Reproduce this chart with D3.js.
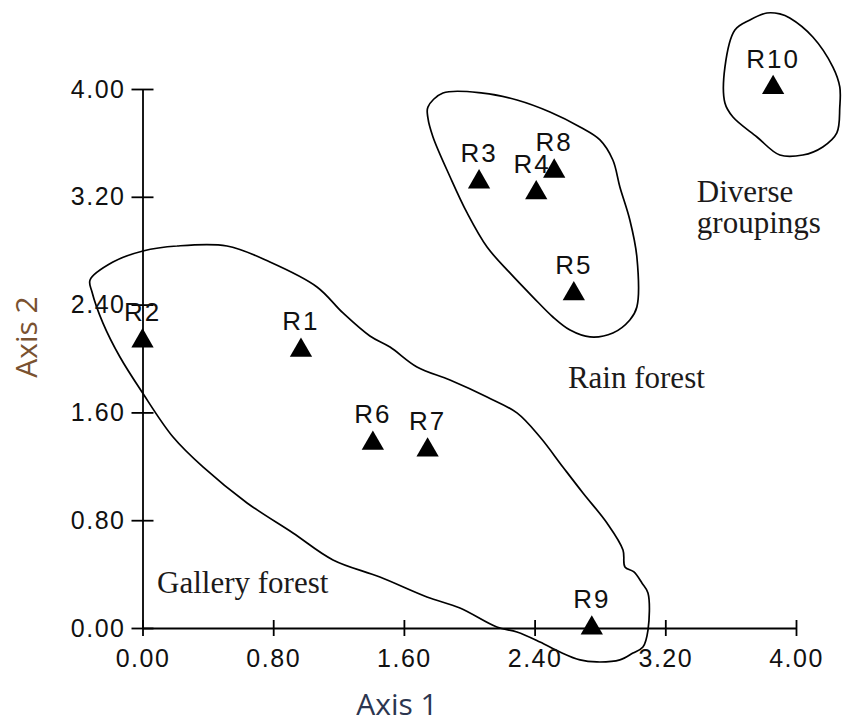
<!DOCTYPE html>
<html>
<head>
<meta charset="utf-8">
<script src="https://cdn.jsdelivr.net/npm/d3@7/dist/d3.min.js"></script>
<style>
  html, body { margin: 0; padding: 0; background: #fff; }
  svg { display: block; }
</style>
</head>
<body>
<svg id="chart" width="842" height="725"></svg>
<script>
// ---- data ----
const siteNames = ["R1","R2","R3","R4","R5","R6","R7","R8","R9","R10"];
const axis1Values = [0.97, 0.00, 2.06, 2.41, 2.64, 1.41, 1.745, 2.52, 2.75, 3.86];
const axis2Values = [2.06, 2.13, 3.31, 3.23, 2.48, 1.37, 1.32, 3.39, 0.00, 4.01];
const tickValues = [0.00, 0.80, 1.60, 2.40, 3.20, 4.00];

// group outlines (axis1, axis2)
const galleryOutline = [
  [0.003,2.798],[0.211,2.835],[0.517,2.835],[0.780,2.716],[1.068,2.531],[1.227,2.338],
  [1.392,2.167],[1.515,2.085],[1.680,1.937],[1.882,1.840],[2.109,1.714],[2.292,1.596],
  [2.433,1.417],[2.573,1.195],[2.696,1.002],[2.843,0.779],[2.941,0.579],[2.953,0.453],
  [3.008,0.416],[3.057,0.334],[3.094,0.260],[3.094,-0.015],[3.063,-0.141],[3.002,-0.186],
  [2.922,-0.237],[2.781,-0.252],[2.678,-0.237],[2.555,-0.178],[2.433,-0.104],[2.292,-0.030],
  [2.169,0.007],[1.943,0.148],[1.741,0.230],[1.453,0.378],[1.166,0.505],[0.921,0.705],
  [0.640,0.928],[0.370,1.195],[0.187,1.417],[-0.003,1.751],[-0.138,2.011],[-0.242,2.263],
  [-0.309,2.494],[-0.321,2.583],[-0.181,2.716]
];
const rainOutline = [
  [1.747,3.866],[1.839,3.970],[2.084,3.970],[2.292,3.918],[2.494,3.829],[2.678,3.718],
  [2.800,3.622],[2.879,3.473],[2.922,3.273],[2.983,3.028],[3.026,2.753],[3.026,2.382],
  [2.983,2.286],[2.879,2.189],[2.739,2.160],[2.617,2.211],[2.512,2.308],[2.390,2.456],
  [2.249,2.635],[2.109,2.827],[1.987,3.080],[1.883,3.347],[1.778,3.644],[1.747,3.785]
];
const diverseOutline = [
  [3.565,4.163],[3.626,4.438],[3.718,4.512],[3.822,4.564],[3.901,4.557],[3.962,4.527],
  [4.103,4.386],[4.226,4.163],[4.268,4.015],[4.268,3.866],[4.250,3.674],[4.164,3.570],
  [4.042,3.510],[3.901,3.510],[3.761,3.644],[3.614,3.792],[3.565,3.896]
];
const groupLabels = ["Gallery forest", "Rain forest", "Diverse|groupings"];
const groupLabelPos = [[0.089, 0.26], [2.604, 1.781], [3.393, 3.16]];

// ---- drawing ----
const svg = d3.select("#chart");
const x = d3.scaleLinear().domain([0, 4]).range([142.5, 796]);
const y = d3.scaleLinear().domain([0, 4]).range([628, 89]);

const tickFont = "'Liberation Sans', Arial, sans-serif";

// outlines
const line = d3.line().x(d => x(d[0])).y(d => y(d[1])).curve(d3.curveCatmullRomClosed.alpha(0.5));
svg.append("g").selectAll("path")
  .data([galleryOutline, rainOutline, diverseOutline])
  .join("path")
  .attr("d", line)
  .attr("fill", "none")
  .attr("stroke", "#000")
  .attr("stroke-width", 1.7);

// axes
const yAxis = d3.axisLeft(y).tickValues(tickValues).tickFormat(d3.format(".2f"))
  .tickSizeInner(11).tickSizeOuter(0).tickPadding(6);
const gy = svg.append("g").attr("transform", `translate(${x(0)},0)`).call(yAxis);
gy.selectAll(".tick line").attr("x1", 11);
const xAxis = d3.axisBottom(x).tickValues(tickValues).tickFormat(d3.format(".2f"))
  .tickSizeInner(8).tickSizeOuter(0).tickPadding(13);
const gx = svg.append("g").attr("transform", `translate(0,${y(0)})`).call(xAxis);
gx.selectAll(".tick line").attr("y1", -8);

[gx, gy].forEach(g => {
  g.select(".domain").attr("stroke", "#000").attr("stroke-width", 1.8);
  g.selectAll(".tick line").attr("stroke", "#000").attr("stroke-width", 1.8);
  g.selectAll(".tick text")
    .attr("fill", "#111")
    .style("font-family", tickFont)
    .style("font-size", "25px")
    .style("letter-spacing", "1.5px");
});

// points (triangles)
const pts = siteNames.map((n, i) => ({ name: n, a1: axis1Values[i], a2: axis2Values[i] }));
const tri = d3.symbol().type(d3.symbolTriangle).size(215);
svg.append("g").selectAll("path")
  .data(pts).join("path")
  .attr("d", tri)
  .attr("transform", d => `translate(${x(d.a1)},${y(d.a2)})`)
  .attr("fill", "#000");

svg.append("g").selectAll("text")
  .data(pts).join("text")
  .attr("x", d => x(d.a1) + (d.name === "R4" ? -4 : 0))
  .attr("y", d => y(d.a2) - 20)
  .attr("text-anchor", "middle")
  .style("font-family", tickFont)
  .style("font-size", "26px")
  .style("letter-spacing", "2px")
  .attr("fill", "#111")
  .text(d => d.name);

// group annotations
groupLabels.forEach((lab, i) => {
  const t = svg.append("text")
    .attr("x", x(groupLabelPos[i][0]))
    .attr("y", y(groupLabelPos[i][1]))
    .style("font-family", "'Liberation Serif', 'Times New Roman', serif")
    .style("font-size", "31px")
    .attr("fill", "#1c1a1a");
  lab.split("|").forEach((part, j) => {
    t.append("tspan").attr("x", x(groupLabelPos[i][0])).attr("dy", j === 0 ? 0 : 31).text(part);
  });
});

// axis titles
svg.append("text")
  .attr("x", 397).attr("y", 715)
  .attr("text-anchor", "middle")
  .style("font-family", "'Open Sans', sans-serif")
  .style("font-size", "30px")
  .attr("fill", "#2c3650")
  .text("Axis 1");
svg.append("text")
  .attr("transform", "translate(37,337) rotate(-90)")
  .attr("text-anchor", "middle")
  .style("font-family", "'Open Sans', sans-serif")
  .style("font-size", "30px")
  .attr("fill", "#7a5230")
  .text("Axis 2");
</script>
</body>
</html>
